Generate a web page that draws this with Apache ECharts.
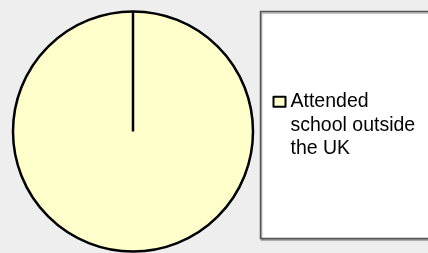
<!DOCTYPE html>
<html>
<head>
<meta charset="utf-8">
<script src="https://cdn.jsdelivr.net/npm/echarts@6/dist/echarts.min.js"></script>
<style>
	html, body { margin: 0; padding: 0; background: #eeeeee; }
	#chart { width: 428px; height: 253px; }
</style>
</head>
<body>
<div id="chart"></div>
<script>
// chart data
var categories = ['Attended school outside the UK'];
var values = [100];
var sliceColors = ['#ffffcc'];

// pie geometry
var CX = 133, CY = 131.5, R = 120;

var dom = document.getElementById('chart');
var myChart = echarts.init(dom, null, { renderer: 'canvas' });

var pieData = categories.map(function (name, i) {
	return { name: name, value: values[i], itemStyle: { color: sliceColors[i] } };
});

var option = {
	backgroundColor: '#eeeeee',
	animation: false,
	legend: {
		show: true,
		orient: 'vertical',
		left: 267.5,
		top: 38,
		icon: 'rect',
		itemWidth: 12,
		itemHeight: 10,
		itemGap: 10,
		selectedMode: false,
		itemStyle: { borderColor: '#000', borderWidth: 2 },
		formatter: function (name) {
			// wrapped as in the original legend box; two empty lines keep the
			// marker level with the first line
			return '\n\nAttended\nschool outside\nthe UK';
		},
		textStyle: {
			fontFamily: 'Liberation Sans, Arial, sans-serif',
			fontSize: 19.5,
			color: '#000',
			lineHeight: 23.5
		},
		data: categories
	},
	graphic: [
		{
			type: 'rect',
			z: -1,
			shape: { x: 260.5, y: 11.5, width: 180, height: 227 },
			style: {
				fill: '#ffffff',
				stroke: '#555555',
				lineWidth: 1.5,
				shadowColor: 'rgba(0,0,0,0.35)',
				shadowOffsetX: 1,
				shadowOffsetY: 1.5,
				shadowBlur: 1
			}
		},
		{
			// slice boundary at the start angle
			type: 'line',
			z: 100,
			shape: { x1: CX, y1: CY, x2: CX, y2: CY - R },
			style: { stroke: '#000', lineWidth: 2.5 }
		}
	],
	series: [
		{
			type: 'pie',
			center: [CX, CY],
			radius: [0, R],
			startAngle: 90,
			clockwise: true,
			silent: true,
			label: { show: false },
			labelLine: { show: false },
			itemStyle: { borderColor: '#000', borderWidth: 2.5 },
			emphasis: { disabled: true },
			data: pieData
		}
	]
};
myChart.setOption(option);
window.addEventListener('resize', myChart.resize);
</script>
</body>
</html>
